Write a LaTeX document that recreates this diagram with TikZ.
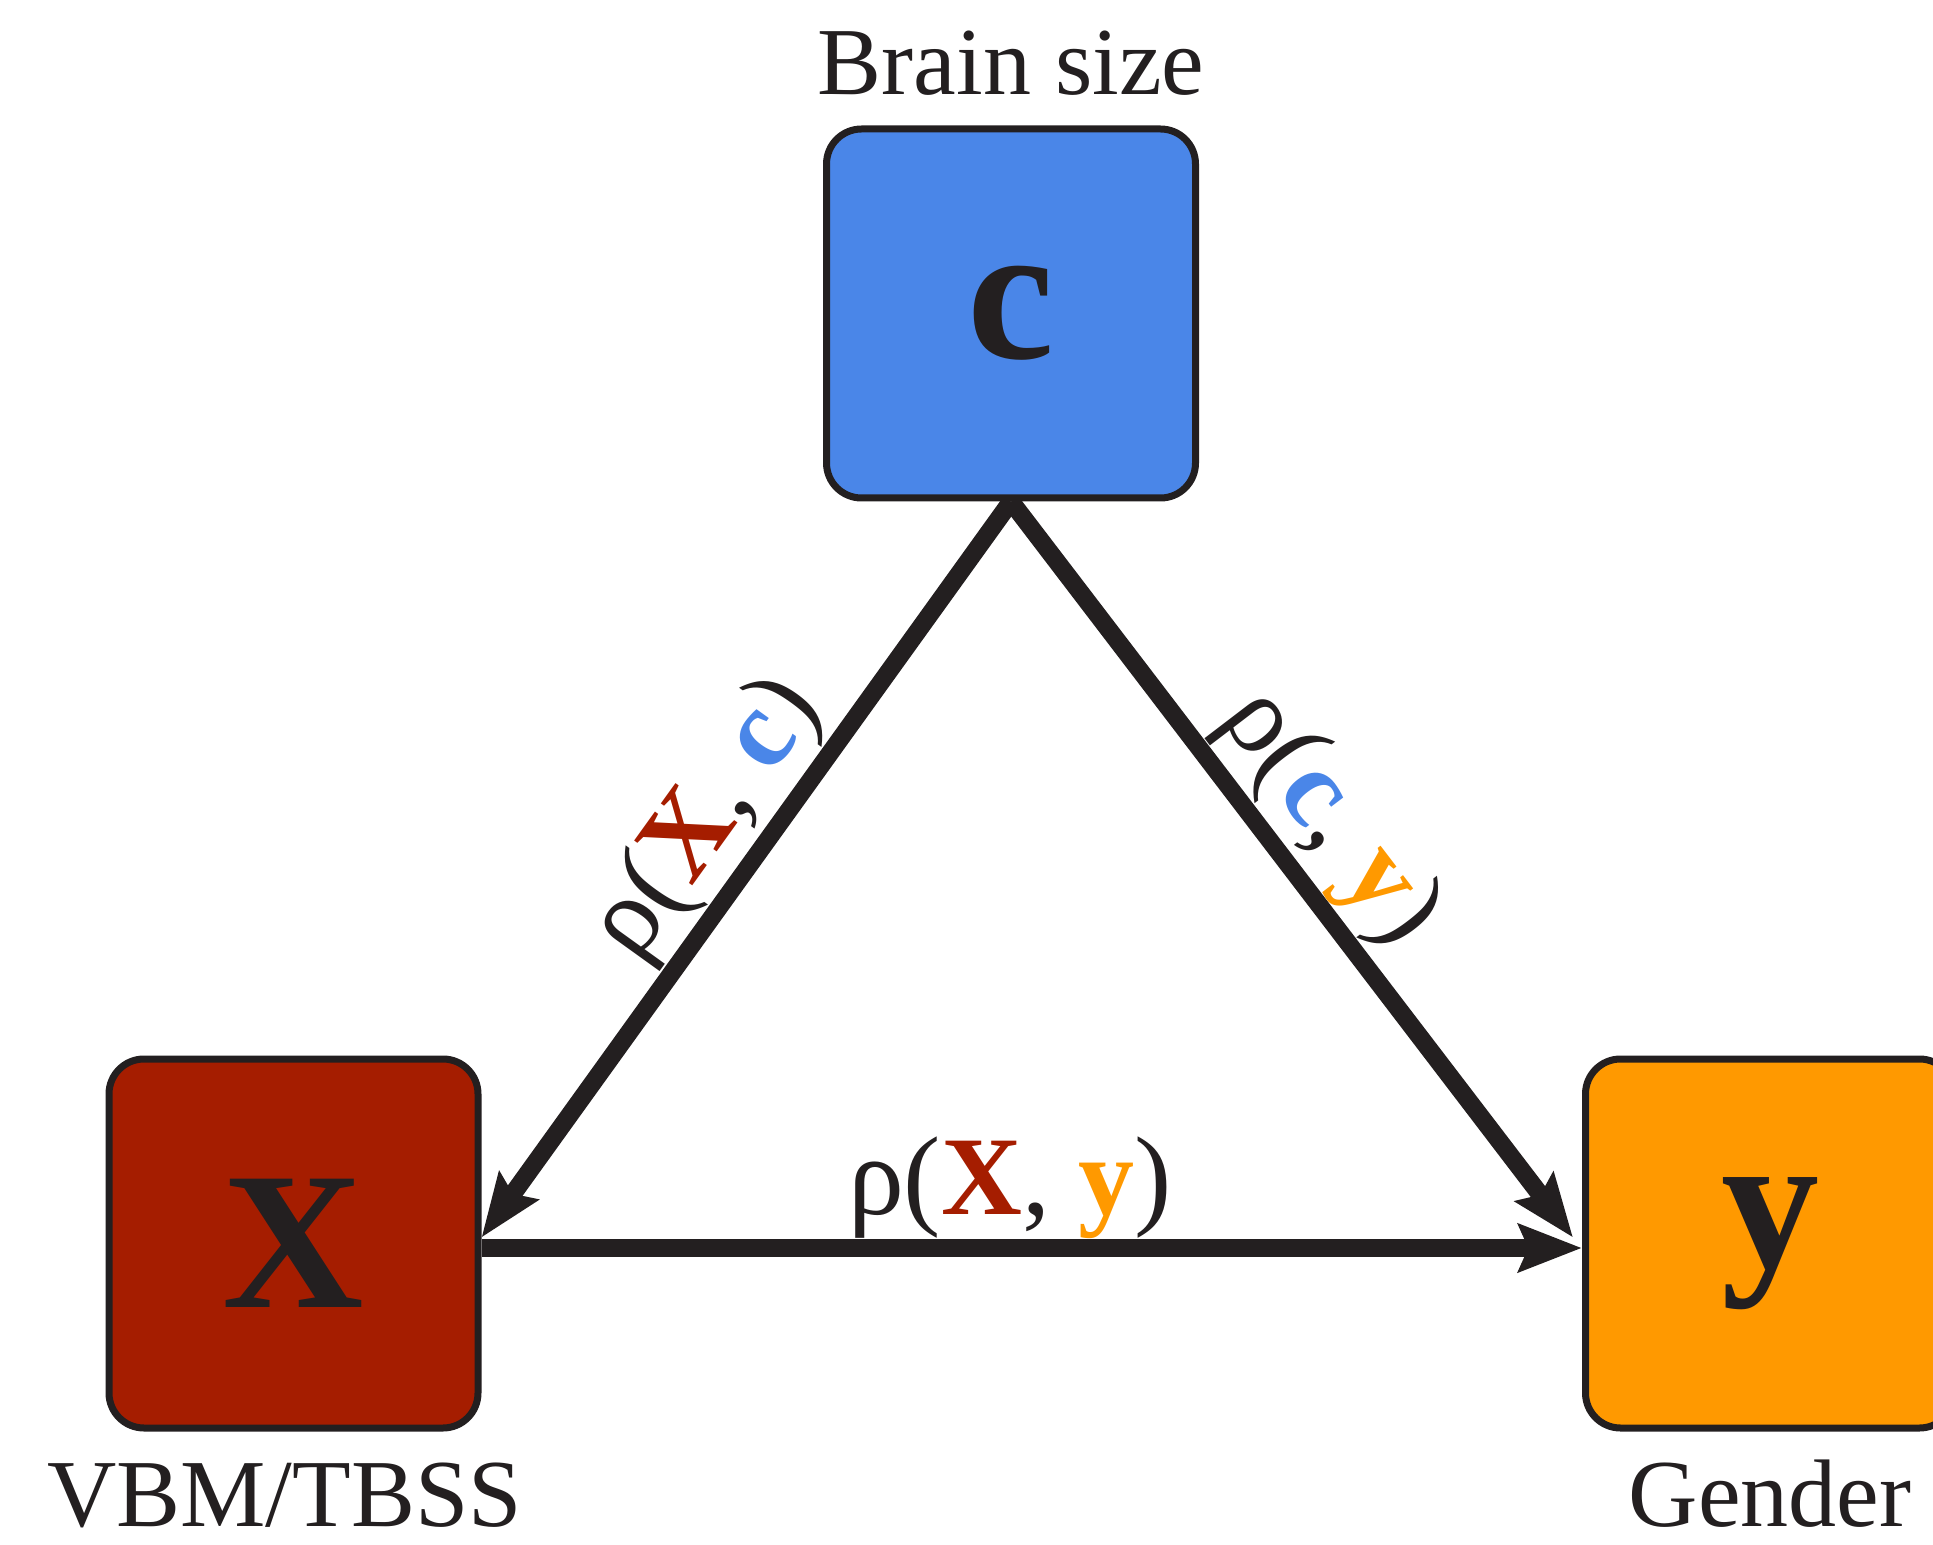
\documentclass[tikz,border=0pt]{standalone}
\usepackage{fontspec}
\setmainfont{Liberation Serif}
\usetikzlibrary{calc,arrows.meta}
\definecolor{cblue}{RGB}{74,134,232}
\definecolor{xred}{RGB}{165,29,0}
\definecolor{yorange}{RGB}{255,153,0}
\definecolor{ink}{RGB}{35,31,32}
\newcommand{\vx}{\textbf{\color{xred}X}}
\newcommand{\vc}{\textbf{\color{cblue}c}}
\newcommand{\vy}{\textbf{\color{yorange}y}}
\begin{document}
\begin{tikzpicture}[x=0.5pt,y=-0.5pt,
  varbox/.style={draw=ink, line width=3.5pt, rounded corners=17.5pt,
    minimum width=184.5pt, minimum height=184.5pt, inner sep=0pt,
    font=\fontsize{98}{98}\selectfont\bfseries, text=ink},
  caption/.style={font=\fontsize{48}{48}\selectfont, text=ink, anchor=base, inner sep=0pt},
  link/.style={draw=ink, line width=9pt,
    -{Stealth[length=31.5pt,width=23.5pt,inset=4.7pt]}},
  corr/.style={font=\fontsize{56}{56}\selectfont, text=ink, sloped, anchor=base,
    yshift=17pt, inner sep=0pt, pos=0.48}
]
\useasboundingbox (0,0) rectangle (1933,1545);

% variables
\node[varbox, fill=cblue]   (c) at (1011,313.5)  {c};
\node[varbox, fill=xred]    (x) at (293.5,1243.5) {X};
\node[varbox, fill=yorange] (y) at (1770,1243.5) {y};

% captions
\node[caption] (bs) at ($(c.north)+(0,-30.5)$) {Brain size};
\node[caption] (vt) at ($(x.south)+(-9,94.5)$) {VBM/TBSS};
\node[caption] (gd) at ($(y.south)+(0,94.5)$) {Gender};

% correlations
\draw[link] (c.south) -- node[corr] (rxc) {ρ(\vx, \vc)} ($(x.east)+(0,-6)$);
\draw[link] (c.south) -- node[corr] (rcy) {ρ(\vc, \vy)} ($(y.west)+(-9,-6)$);
\draw[link] ($(x.east)+(0,4.5)$) -- node[corr] (rxy) {ρ(\vx, \vy)} ($(y.west)+(0,4.5)$);
\end{tikzpicture}
\end{document}
